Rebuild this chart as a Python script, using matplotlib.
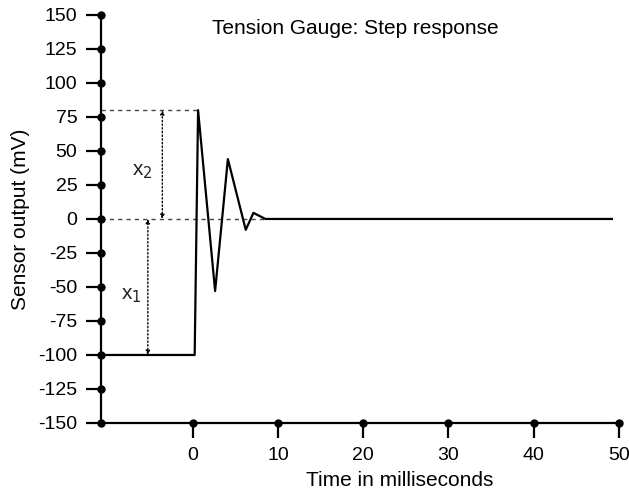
import matplotlib
matplotlib.use("Agg")
import matplotlib.pyplot as plt
from matplotlib.ticker import FuncFormatter

plt.rcParams['font.family'] = ['Liberation Sans', 'DejaVu Sans']

# Data
t_ms = [-10.8, 0.2, 0.6, 2.6, 4.1, 6.2, 7.1, 8.5, 49.2]
sensor_mv = [-100, -100, 80, -53, 44, -8, 4.5, 0, 0]
y_ticks = [-150, -125, -100, -75, -50, -25, 0, 25, 50, 75, 100, 125, 150]
x_ticks = [0, 10, 20, 30, 40, 50]
peak_value = 80
base_value = -100
x2_pos = -3.6
x1_pos = -5.3

fig = plt.figure(figsize=(6.29, 4.97), dpi=100)
ax = fig.add_axes([0.1606, 0.1489, 0.989 - 0.1606, 0.970 - 0.1489])

xmin, xmax = -10.8, 50.4
ax.set_xlim(xmin, xmax)
ax.set_ylim(-150, 150)

ax.plot(t_ms, sensor_mv, color='black', lw=1.6, clip_on=False, zorder=3)

# dashed reference lines
ax.plot([xmin, t_ms[2]], [peak_value, peak_value], ls=(0, (3, 3)), color='#444444', lw=1)
ax.plot([xmin, 8.5], [0, 0], ls=(0, (3, 3)), color='#444444', lw=1)

# dotted arrows
arrowprops = dict(arrowstyle='<|-|>', linestyle=':', color='black', lw=1,
                  mutation_scale=6, shrinkA=0, shrinkB=0)
ax.annotate('', xy=(x2_pos, peak_value), xytext=(x2_pos, 0), arrowprops=arrowprops)
ax.annotate('', xy=(x1_pos, 0), xytext=(x1_pos, base_value), arrowprops=arrowprops)

ax.text(-5.9, 35, r'x$_2$', fontsize=15, color='#222222', ha='center', va='center')
ax.text(-7.2, -56, r'x$_1$', fontsize=15, color='#222222', ha='center', va='center')

# spines
for s in ['top', 'right']:
    ax.spines[s].set_visible(False)
for s in ['left', 'bottom']:
    ax.spines[s].set_linewidth(1.6)

ax.set_yticks(y_ticks)
ax.set_xticks(x_ticks)
fmt = FuncFormatter(lambda v, p: '%d' % v)
ax.xaxis.set_major_formatter(fmt)
ax.yaxis.set_major_formatter(fmt)
ax.tick_params(axis='both', direction='out', length=11, width=1.6, labelsize=14,
               colors='black')
ax.tick_params(axis='y', pad=6)
ax.tick_params(axis='x', pad=6)

# dots at tick positions
ax.plot([xmin] * len(y_ticks), y_ticks, 'o', color='black', ms=5, clip_on=False, zorder=4)
ax.plot(x_ticks, [-150] * len(x_ticks), 'o', color='black', ms=5, clip_on=False, zorder=4)

ax.set_xlabel('Time in milliseconds', fontsize=15)
ax.xaxis.set_label_coords(0.574, -0.118)
ax.set_ylabel('Sensor output (mV)', fontsize=15, labelpad=6)

ax.text(0.488, 0.99, 'Tension Gauge: Step response', transform=ax.transAxes,
        ha='center', va='top', fontsize=15)

fig.savefig('out.png', dpi=100)
